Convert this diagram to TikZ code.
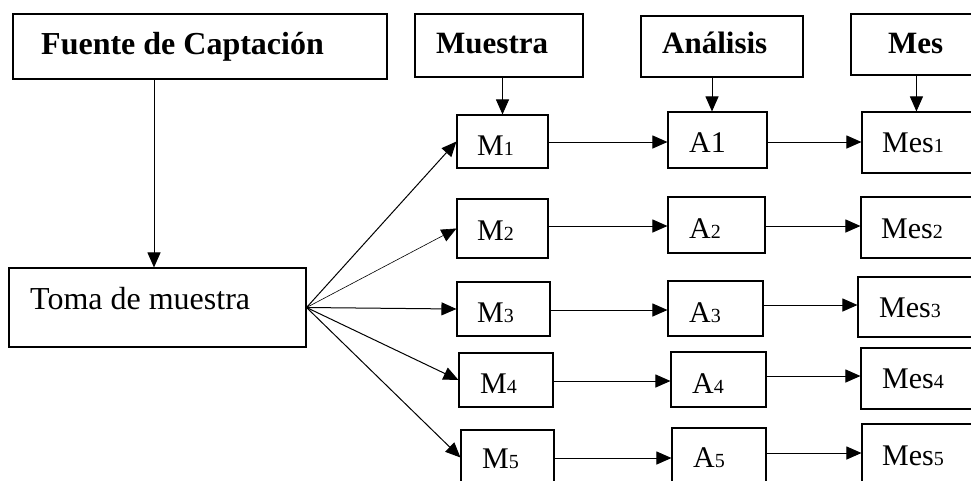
\documentclass[tikz,border=0pt]{standalone}
\usepackage{fontspec}
\setmainfont{Liberation Serif}
\usetikzlibrary{arrows.meta,fit}
\newcommand\sm[1]{{\fontsize{20}{21}\selectfont #1}}
\tikzset{
  boxsty/.style={draw=black, line width=1.1pt, inner sep=0pt, rectangle},
  txt/.style={inner sep=0pt, anchor=base west, font=\fontsize{30}{32}\selectfont},
  hdr/.style={inner sep=0pt, anchor=base west, font=\fontsize{31}{33}\selectfont\bfseries},
  arr/.style={line width=1pt, -{Triangle[length=15pt,width=13pt]}},
  thinarr/.style={line width=0.6pt, -{Triangle[length=15pt,width=13pt]}}
}
\begin{document}
\begin{tikzpicture}[x=1pt,y=-1pt]
\useasboundingbox (0,0) rectangle (971,480);
\clip (0,0) rectangle (971,480);
\fill[white] (0,0) rectangle (971,480);
% boxes
\node[boxsty, fit={(13,14)(387,79)}] (fuente) {};
\node[boxsty, fit={(415,14)(583,77)}] (muestra) {};
\node[boxsty, fit={(641,16)(803,77)}] (analisis) {};
\node[boxsty, fit={(851,14)(995,75)}] (meshead) {};
\node[boxsty, fit={(9,268)(306,347)}] (toma) {};
\node[boxsty, fit={(457,115)(548,168)}] (m1) {};
\node[boxsty, fit={(457,199)(548,258)}] (m2) {};
\node[boxsty, fit={(457,282)(550,336)}] (m3) {};
\node[boxsty, fit={(459,353)(553,407)}] (m4) {};
\node[boxsty, fit={(461,430)(554,485)}] (m5) {};
\node[boxsty, fit={(668,112)(767,168)}] (a1) {};
\node[boxsty, fit={(668,197)(765,253)}] (a2) {};
\node[boxsty, fit={(668,281)(763,336)}] (a3) {};
\node[boxsty, fit={(671,352)(766,407)}] (a4) {};
\node[boxsty, fit={(672,428)(766,490)}] (a5) {};
\node[boxsty, fit={(862,112)(995,173)}] (mes1) {};
\node[boxsty, fit={(861,197)(995,258)}] (mes2) {};
\node[boxsty, fit={(858,277)(995,337)}] (mes3) {};
\node[boxsty, fit={(861,348)(995,409)}] (mes4) {};
\node[boxsty, fit={(862,424)(995,490)}] (mes5) {};
% texts
\node[hdr, font=\fontsize{32}{34}\selectfont\bfseries] (fuentet) at (41,54) {Fuente de Captación};
\node[hdr] (muestrat) at (436,53) {Muestra};
\node[hdr] (analisist) at (662,53) {Análisis};
\node[hdr] (mesheadt) at (888,53) {Mes};
\node[txt, font=\fontsize{32}{34}\selectfont] (tomat) at (30,309) {Toma de muestra};
\node[txt] (m1t) at (477,155) {M\sm{1}};
\node[txt] (m2t) at (477,240) {M\sm{2}};
\node[txt] (m3t) at (477,322) {M\sm{3}};
\node[txt] (m4t) at (480,393) {M\sm{4}};
\node[txt] (m5t) at (482,468) {M\sm{5}};
\node[txt] (a1t) at (689,152) {A1};
\node[txt] (a2t) at (689,238) {A\sm{2}};
\node[txt] (a3t) at (689,322) {A\sm{3}};
\node[txt] (a4t) at (692,393) {A\sm{4}};
\node[txt] (a5t) at (693,467) {A\sm{5}};
\node[txt] (mes1t) at (882,152) {Mes\sm{1}};
\node[txt] (mes2t) at (881,238) {Mes\sm{2}};
\node[txt] (mes3t) at (879,317) {Mes\sm{3}};
\node[txt] (mes4t) at (882,388) {Mes\sm{4}};
\node[txt] (mes5t) at (882,465) {Mes\sm{5}};
% row levels
\coordinate (r1) at (0,142);
\coordinate (r2) at (0,226);
\coordinate (r3) at (0,310);
\coordinate (r3b) at (0,305);
\coordinate (r4) at (0,381);
\coordinate (r4b) at (0,376);
\coordinate (r5) at (0,458);
\coordinate (r5b) at (0,453);
% vertical connectors
\draw[arr] ([xshift=-3.5pt]fuente.south -| toma.north) -- ([xshift=-3.5pt]toma.north);
\draw[arr] (muestra.south -| m1.north) -- (m1.north);
\draw[arr] ([xshift=-5.5pt]analisis.south -| a1.north) -- ([xshift=-5.5pt]a1.north);
\draw[arr] ([xshift=66pt]meshead.south west) -- ([xshift=66pt]meshead.south west |- mes1.north);
% fan
\draw[arr] (toma.east) -- (m1.west);
\draw[thinarr] (toma.east) -- (m2.west);
\draw[arr] (toma.east) -- (m3.west);
\draw[arr] (toma.east) -- (m4.west);
\draw[arr] (toma.east) -- (m5.west);
% rows
\draw[arr] (m1.east |- r1) -- (a1.west |- r1);
\draw[arr] (a1.east |- r1) -- (mes1.west |- r1);
\draw[arr] (m2.east |- r2) -- (a2.west |- r2);
\draw[arr] (a2.east |- r2) -- (mes2.west |- r2);
\draw[arr] (m3.east |- r3) -- (a3.west |- r3);
\draw[arr] (a3.east |- r3b) -- (mes3.west |- r3b);
\draw[arr] (m4.east |- r4) -- (a4.west |- r4);
\draw[arr] (a4.east |- r4b) -- (mes4.west |- r4b);
\draw[arr] (m5.east |- r5) -- (a5.west |- r5);
\draw[arr] (a5.east |- r5b) -- (mes5.west |- r5b);
\end{tikzpicture}
\end{document}
